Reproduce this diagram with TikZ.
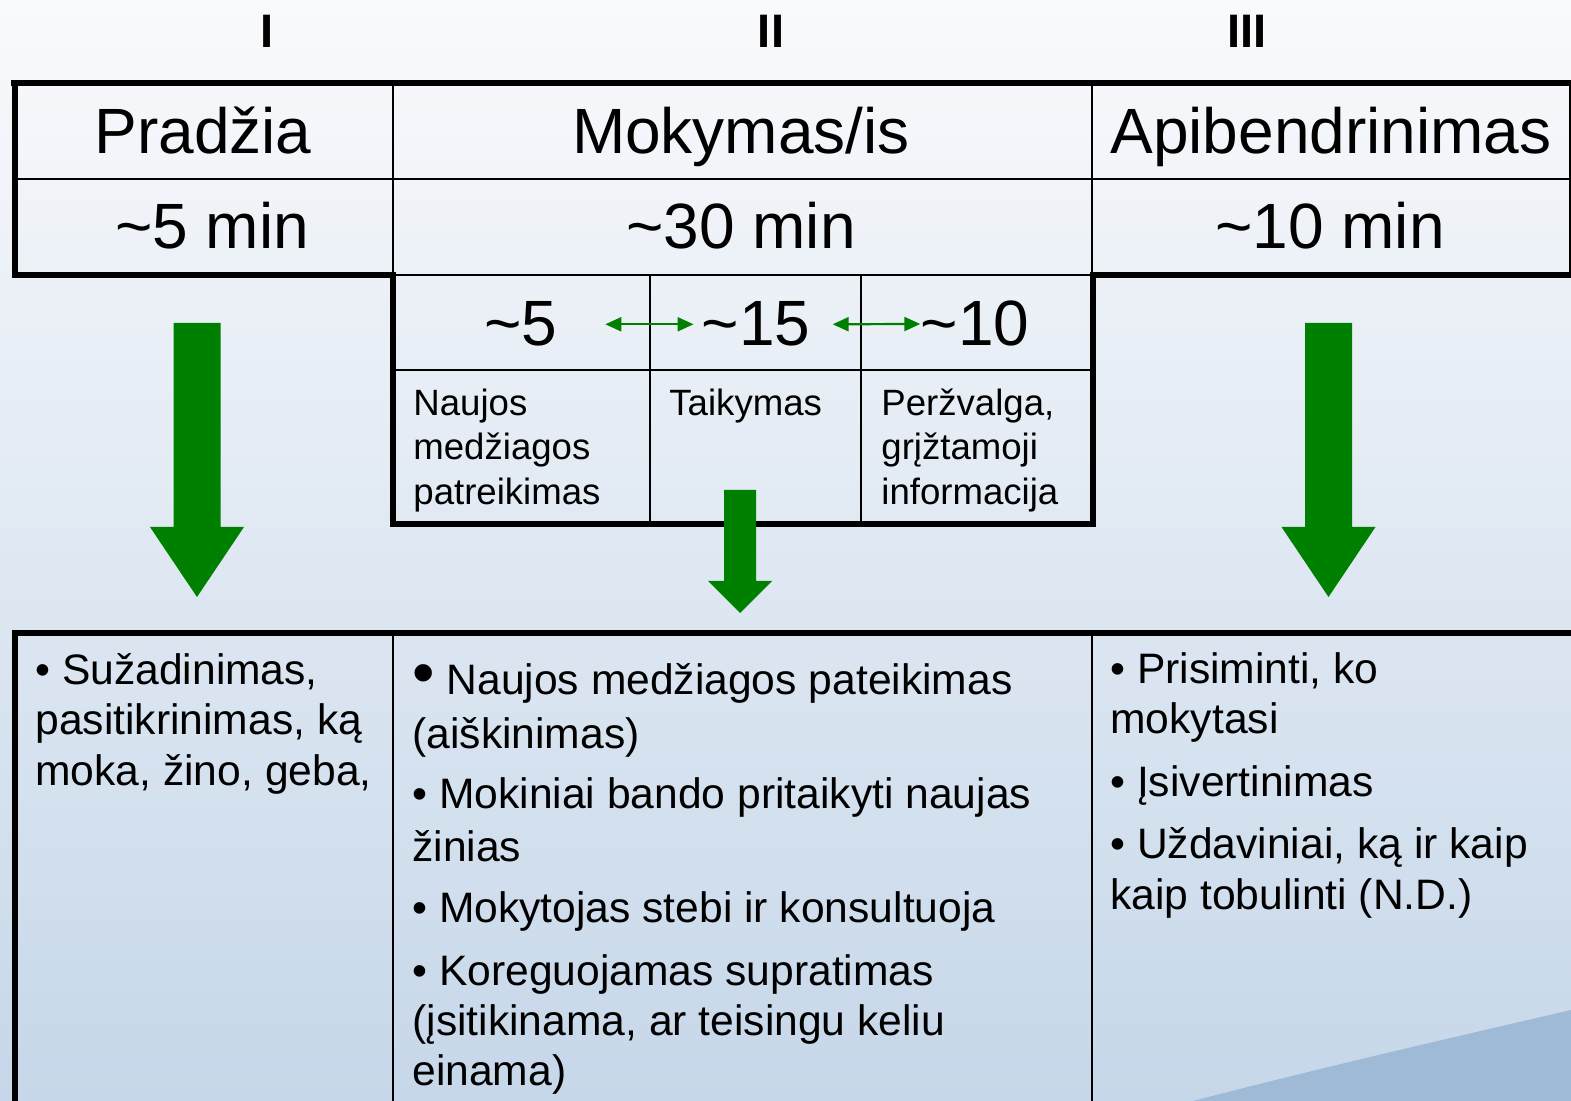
\documentclass[tikz,border=0pt]{standalone}
\usepackage{fontspec}
\setmainfont{Liberation Sans}
\usetikzlibrary{arrows.meta}
\definecolor{grn}{RGB}{0,128,0}
\definecolor{bgtop}{HTML}{F9FAFC}
\definecolor{bgbot}{HTML}{C6D7E9}
\definecolor{wedgecol}{HTML}{9FBAD6}
\begin{document}
\begin{tikzpicture}[x=0.5pt,y=-0.5pt,
  heavyrule/.style={line width=3pt, line cap=rect, line join=miter},
  lightrule/.style={line width=1pt},
  roman/.style={font=\fontsize{23.5}{28}\selectfont\bfseries, inner sep=0pt, anchor=base},
  headtxt/.style={font=\fontsize{32}{38}\selectfont, inner sep=0pt, anchor=base},
  smalltxt/.style={font=\fontsize{18.3}{22}\selectfont, inner sep=0pt, anchor=base west},
  bodytxt/.style={font=\fontsize{21.3}{26}\selectfont, inner sep=0pt, anchor=base west},
  blockarrow/.style={fill=grn},
  dblarrow/.style={draw=grn, line width=1.1pt, {Triangle[length=8pt,width=7pt]}-{Triangle[length=8pt,width=7pt]}}
]
\useasboundingbox (0,0) rectangle (1571,1101);
\clip (0,0) rectangle (1571,1101);
% background
\shade[top color=bgtop, bottom color=bgbot] (0,0) rectangle (1571,1101);
\fill[wedgecol] (1193,1101) .. controls (1320,1068) and (1450,1038) .. (1571,1010) -- (1571,1101) -- cycle;

% roman numerals
\node[roman] (r1) at (267,48) {I};
\node[roman] (r2) at (771,48) {II};
\node[roman] (r3) at (1247,48) {III};

% top table lines
\draw[lightrule] (14,179) -- (1571,179);
\draw[lightrule] (393,83) -- (393,275);
\draw[lightrule] (1092,83) -- (1092,275);
\draw[lightrule] (1570,83) -- (1570,275);
\draw[lightrule] (393,275) -- (1092,275);
\draw[lightrule] (393,370) -- (1092,370);
\draw[lightrule] (650,275) -- (650,524);
\draw[lightrule] (861,275) -- (861,524);
\draw[heavyrule] (1575,83) -- (13.5,83);
\draw[heavyrule] (14.5,83) -- (14.5,275) -- (392.5,275) -- (392.5,524) -- (1093,524) -- (1093,275) -- (1575,275);

% header texts
\node[headtxt] (hPr) at (203,154) {Pradžia};
\node[headtxt] (hMo) at (741,154) {Mokymas/is};
\node[headtxt] (hAp) at (1331,154) {Apibendrinimas};
\node[headtxt] (tPr) at (212,249) {\textasciitilde5 min};
\node[headtxt] (tMo) at (741,249) {\textasciitilde30 min};
\node[headtxt] (tAp) at (1330,249) {\textasciitilde10 min};

% sub-table
\node[headtxt] (s5) at (521,346) {\textasciitilde5};
\node[headtxt] (s15) at (756,346) {\textasciitilde15};
\node[headtxt] (s10) at (975,346) {\textasciitilde10};
\draw[dblarrow] ([xshift=23.7pt]s5.east) -- ([xshift=-3.9pt]s15.west);
\draw[dblarrow] ([xshift=11pt]s15.east) -- ([xshift=0pt]s10.west);

\node[smalltxt] (a1) at (413,416) {Naujos};
\node[smalltxt] (a2) at (413,460) {medžiagos};
\node[smalltxt] (a3) at (413,505) {patreikimas};
\node[smalltxt] (b1) at (669,416) {Taikymas};
\node[smalltxt] (c1) at (881,416) {Peržvalga,};
\node[smalltxt] (c2) at (881,460) {grįžtamoji};
\node[smalltxt] (c3) at (881,505) {informacija};

% big green arrows
\fill[blockarrow] (173.5,323) -- (220.5,323) -- (220.5,527) -- (244,527) -- (197,597) -- (150,527) -- (173.5,527) -- cycle;
\fill[blockarrow] (1305,323) -- (1352,323) -- (1352,527) -- (1375.5,527) -- (1328.5,597) -- (1281.5,527) -- (1305,527) -- cycle;
\fill[blockarrow] (724,490) -- (756,490) -- (756,581) -- (772,581) -- (740,613) -- (708,581) -- (724,581) -- cycle;

% bottom table lines
\draw[lightrule] (393,633) -- (393,1101);
\draw[lightrule] (1092,633) -- (1092,1101);
\draw[heavyrule] (1575,633) -- (14.5,633) -- (14.5,1110);

% bottom texts: left
\node[bodytxt] (L1) at (35,685) {• Sužadinimas,};
\node[bodytxt] (L2) at (35,735) {pasitikrinimas, ką};
\node[bodytxt] (L3) at (35,785) {moka, žino, geba,};

% middle
\node[bodytxt] (M1) at (412,695) {{\fontsize{32}{32}\selectfont •} Naujos medžiagos pateikimas};
\node[bodytxt] (M2) at (412,749) {(aiškinimas)};
\node[bodytxt] (M3) at (412,809) {• Mokiniai bando pritaikyti naujas};
\node[bodytxt] (M4) at (412,862) {žinias};
\node[bodytxt] (M5) at (412,922) {• Mokytojas stebi ir konsultuoja};
\node[bodytxt] (M6) at (412,985) {• Koreguojamas supratimas};
\node[bodytxt] (M7) at (412,1035) {(įsitikinama, ar teisingu keliu};
\node[bodytxt] (M8) at (412,1085) {einama)};

% right
\node[bodytxt] (R1) at (1110,684) {• Prisiminti, ko};
\node[bodytxt] (R2) at (1110,734) {mokytasi};
\node[bodytxt] (R3) at (1110,797) {• Įsivertinimas};
\node[bodytxt] (R4) at (1110,858) {• Uždaviniai, ką ir kaip};
\node[bodytxt] (R5) at (1110,909) {kaip tobulinti (N.D.)};
\end{tikzpicture}
\end{document}
